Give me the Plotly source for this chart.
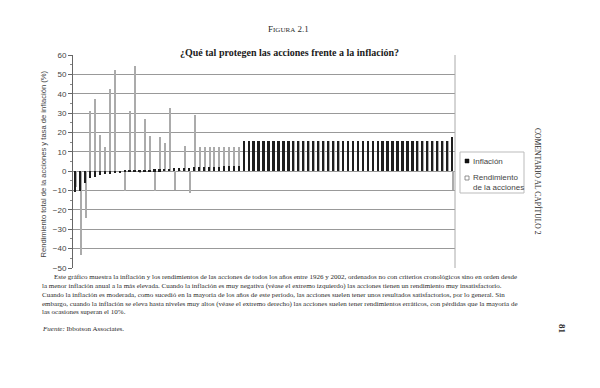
import plotly.graph_objects as go

# ---- data, years ordered from lowest to highest inflation ----
inflacion = [-10.5, -10.0, -6.0, -3.5, -3.0, -2.0, -1.5, -1.2, -1.0, -0.5,
             0.2, 0.4, 0.6, 0.5, 0.7, 0.8, 1.0, 1.0, 1.1, 1.2,
             1.5, 1.6, 1.8, 1.9, 2.0, 2.0, 2.2, 2.3, 2.3, 2.4,
             2.5, 2.5, 2.6, 2.8, 15.5, 15.5, 15.5, 15.5, 15.5, 15.5,
             15.5, 15.5, 15.5, 15.5, 15.5, 15.5, 15.5, 15.5, 15.5, 15.5,
             15.5, 15.5, 15.5, 15.5, 15.5, 15.5, 15.5, 15.5, 15.5, 15.5,
             15.5, 15.5, 15.5, 15.5, 15.5, 15.5, 15.5, 15.5, 15.5, 15.5,
             15.5, 15.5, 15.5, 15.5, 15.5, 15.5, 17.8]
rendimiento = [-8.0, -43.3, -24.1, 31.2, 37.4, 18.8, 12.4, 42.2, 52.4, -0.4,
               -10.3, 31.2, 54.3, -1.0, 27.0, 18.0, -10.3, 17.6, 14.7, 32.8,
               -9.7, 0.5, 12.8, -11.4, 28.8, 12.4, 12.4, 12.4, 12.4, 12.4,
               12.4, 12.4, 12.4, 12.4, 15.5, 15.5, 15.5, 15.5, 15.5, 15.5,
               15.5, 15.5, 15.5, 15.5, 15.5, 15.5, 15.5, 15.5, 15.5, 15.5,
               15.5, 15.5, 15.5, 15.5, 15.5, 15.5, 15.5, 15.5, 15.5, 15.5,
               15.5, 15.5, 15.5, 15.5, 15.5, 15.5, 15.5, 15.5, 15.5, 15.5,
               15.5, 15.5, 15.5, 15.5, 15.5, 15.5, -9.5]
posicion = list(range(len(inflacion)))
y_ticks = [-50, -40, -30, -20, -10, 0, 10, 20, 30, 40, 50, 60]

titulo = "¿Qué tal protegen las acciones frente a la inflación?"
eje_y = "Rendimiento total de la acciones y tasa de inflación (%)"
leyenda = ["Inflación", "Rendimiento<br>de la acciones"]
parrafo = [
    "Este gráfico muestra la inflación y los rendimientos de las acciones de todos los años entre 1926 y 2002, ordenados no con criterios cronológicos sino en orden desde",
    "la menor inflación anual a la más elevada. Cuando la inflación es muy negativa (véase el extremo izquierdo) las acciones tienen un rendimiento muy insatisfactorio.",
    "Cuando la inflación es moderada, como sucedió en la mayoría de los años de este período, las acciones suelen tener unos resultados satisfactorios, por lo general. Sin",
    "embargo, cuando la inflación se eleva hasta niveles muy altos (véase el extremo derecho) las acciones suelen tener rendimientos erráticos, con pérdidas que la mayoría de",
    "las ocasiones superan el 10%.",
]

# ---- layout geometry (pixels) ----
W, H = 600, 388
PL, PR, PT, PB = 73, 455, 55, 268

def px(x):
    return (x - PL) / (PR - PL)

def py(y):
    return (PB - y) / (PB - PT)

SANS = "Liberation Sans, Arial, sans-serif"
SERIF = "Liberation Serif, Times New Roman, serif"
TXT = "#2a2a2a"

fig = go.Figure()
fig.add_trace(go.Bar(x=posicion, y=rendimiento, width=0.28, offset=-0.08,
                     marker=dict(color="#ababab", line=dict(width=0)),
                     showlegend=False, name=leyenda[1]))
fig.add_trace(go.Bar(x=posicion, y=inflacion, width=0.36, offset=-0.22,
                     marker=dict(color="#1e1e1e", line=dict(width=0)),
                     showlegend=False, name=leyenda[0]))

ann = []
# titles
ann.append(dict(x=px(288), y=py(22), xref="paper", yref="paper", showarrow=False,
                text="F<span style='font-size:7px'>IGURA</span> 2.1",
                font=dict(family=SERIF, size=9, color=TXT)))
ann.append(dict(x=px(289), y=py(45), xref="paper", yref="paper", showarrow=False,
                text="<b>" + titulo + "</b>",
                font=dict(family=SERIF, size=10, color="#1a1a1a")))
# y axis label
ann.append(dict(x=px(36), y=py(164), xref="paper", yref="paper", showarrow=False,
                text=eje_y, textangle=-90,
                font=dict(family=SANS, size=7.6, color="#444")))
# legend
ann.append(dict(x=px(471), y=py(161), xref="paper", yref="paper", showarrow=False,
                xanchor="left", text=leyenda[0],
                font=dict(family=SANS, size=8, color="#444")))
ann.append(dict(x=px(471), y=py(182), xref="paper", yref="paper", showarrow=False,
                xanchor="left", align="left", text=leyenda[1],
                font=dict(family=SANS, size=8, color="#444")))
# side header and page number
ann.append(dict(x=px(545), y=py(181), xref="paper", yref="paper", showarrow=False,
                text="COMENTARIO AL CAPÍTULO 2", textangle=90,
                font=dict(family=SERIF, size=7.6, color=TXT)))
ann.append(dict(x=px(569), y=py(336), xref="paper", yref="paper", showarrow=False,
                text="<b>81</b>", textangle=90,
                font=dict(family=SERIF, size=9, color=TXT)))
# paragraph
ys = [283, 292, 301, 309.5, 318]
for i, (line, yy) in enumerate(zip(parrafo, ys)):
    ann.append(dict(x=px(52 if i == 0 else 40), y=py(yy), xref="paper", yref="paper",
                    showarrow=False, xanchor="left", text=line,
                    font=dict(family=SERIF, size=7, color=TXT)))
ann.append(dict(x=px(40), y=py(335), xref="paper", yref="paper", showarrow=False,
                xanchor="left", text="<i>Fuente:</i> Ibbotson Associates.",
                font=dict(family=SERIF, size=7, color=TXT)))

shapes = [
    dict(type="rect", xref="paper", yref="paper", x0=px(460), x1=px(524), y0=py(152), y1=py(193),
         line=dict(color="#bbbbbb", width=1), fillcolor="white"),
    dict(type="rect", xref="paper", yref="paper", x0=px(465), x1=px(469), y0=py(159), y1=py(163),
         line=dict(color="#111", width=0.5), fillcolor="#111"),
    dict(type="rect", xref="paper", yref="paper", x0=px(465), x1=px(469), y0=py(176), y1=py(180),
         line=dict(color="#777", width=0.8), fillcolor="white"),
    dict(type="line", xref="paper", yref="paper", x0=1, x1=1, y0=0, y1=1,
         line=dict(color="#aaaaaa", width=1)),
]

fig.update_layout(
    width=W, height=H,
    margin=dict(l=PL, r=W - PR, t=PT, b=H - PB),
    paper_bgcolor="white", plot_bgcolor="white",
    barmode="overlay", bargap=0,
    showlegend=False,
    annotations=ann, shapes=shapes,
    xaxis=dict(range=[-0.5, len(inflacion) - 0.5], showticklabels=False, ticks="",
               showgrid=False, zeroline=False, showline=False),
    yaxis=dict(range=[-50, 60], tickvals=y_ticks, ticks="outside", ticklen=4,
               tickcolor="#666", showline=True, linecolor="#666", linewidth=1,
               gridcolor="#999999", gridwidth=1, zeroline=False,
               minor=dict(dtick=5, ticks="outside", ticklen=2, tickcolor="#888", showgrid=False),
               tickfont=dict(family=SANS, size=8, color="#444")),
)

fig.write_html("out.html")
